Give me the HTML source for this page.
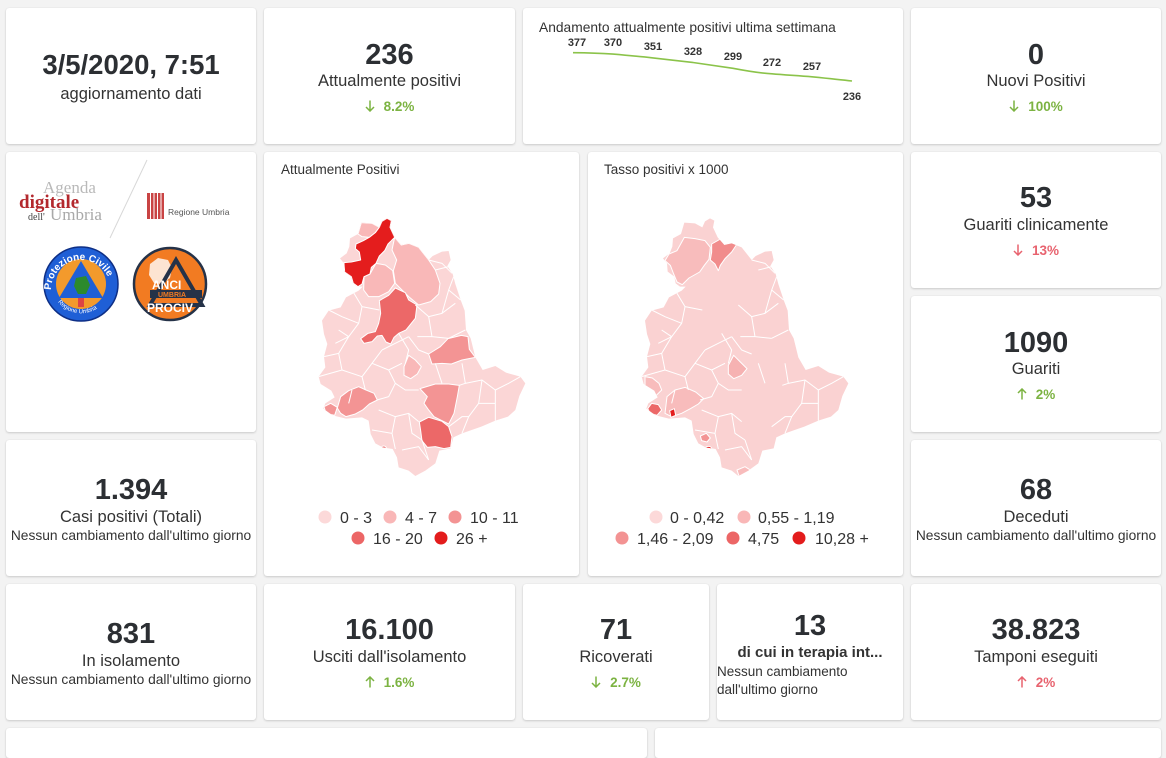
<!DOCTYPE html>
<html><head><meta charset="utf-8">
<style>
*{margin:0;padding:0;box-sizing:border-box}
html,body{width:1166px;height:730px;overflow:hidden;background:#f3f3f3;font-family:"Liberation Sans",sans-serif;color:#333}
.card{position:absolute;background:#fff;border-radius:3px;box-shadow:0 1px 2px rgba(0,0,0,.16),0 0 1px rgba(0,0,0,.10)}
.t{position:absolute;left:0;right:0;text-align:center;white-space:nowrap}
.n{font-size:29px;line-height:34px;font-weight:bold;color:#2c2f33}
.l{font-size:16.5px;line-height:20px;color:#333}
.c{font-size:13.5px;line-height:16px;font-weight:bold}
.s{font-size:13.8px;line-height:17px;color:#333}
.g{color:#7cb342}.r{color:#e8636f}
.ar{display:inline-block;position:relative;width:10px;height:12px;margin-right:9px;vertical-align:-1px}
.ar svg{position:absolute;left:0;top:0}
svg.main{position:absolute;left:0;top:0}
</style></head><body>

<!-- Row 1 -->
<div class="card" style="left:6px;top:8px;width:250px;height:136px">
  <div class="t n" style="top:40px;font-size:27.5px">3/5/2020, 7:51</div>
  <div class="t l" style="top:76px">aggiornamento dati</div>
</div>
<div class="card" style="left:264px;top:8px;width:251px;height:136px">
  <div class="t n" style="top:30px">236</div>
  <div class="t l" style="top:63px">Attualmente positivi</div>
  <div class="t c g" style="top:91px"><span class="ar"><svg width="10" height="12"><path d="M5,0.5 V11 M1,7 L5,11 L9,7" fill="none" stroke="currentColor" stroke-width="1.5"/></svg></span>8.2%</div>
</div>
<div class="card" style="left:523px;top:8px;width:380px;height:136px"></div>
<div class="card" style="left:911px;top:8px;width:250px;height:136px">
  <div class="t n" style="top:30px">0</div>
  <div class="t l" style="top:63px">Nuovi Positivi</div>
  <div class="t c g" style="top:91px"><span class="ar"><svg width="10" height="12"><path d="M5,0.5 V11 M1,7 L5,11 L9,7" fill="none" stroke="currentColor" stroke-width="1.5"/></svg></span>100%</div>
</div>

<!-- Row 2 -->
<div class="card" style="left:6px;top:152px;width:250px;height:280px"></div>
<div class="card" style="left:264px;top:152px;width:315px;height:424px">
  <div style="position:absolute;left:17px;top:10px;font-size:13.5px">Attualmente Positivi</div>
</div>
<div class="card" style="left:588px;top:152px;width:315px;height:424px">
  <div style="position:absolute;left:16px;top:10px;font-size:13.5px">Tasso positivi x 1000</div>
</div>
<div class="card" style="left:911px;top:152px;width:250px;height:136px">
  <div class="t n" style="top:29px">53</div>
  <div class="t l" style="top:63px">Guariti clinicamente</div>
  <div class="t c r" style="top:91px"><span class="ar"><svg width="10" height="12"><path d="M5,0.5 V11 M1,7 L5,11 L9,7" fill="none" stroke="currentColor" stroke-width="1.5"/></svg></span>13%</div>
</div>
<div class="card" style="left:911px;top:296px;width:250px;height:136px">
  <div class="t n" style="top:30px">1090</div>
  <div class="t l" style="top:63px">Guariti</div>
  <div class="t c g" style="top:91px"><span class="ar"><svg width="10" height="12"><path d="M5,11.5 V1 M1,5 L5,1 L9,5" fill="none" stroke="currentColor" stroke-width="1.5"/></svg></span>2%</div>
</div>

<!-- Row 3 -->
<div class="card" style="left:6px;top:440px;width:250px;height:136px">
  <div class="t n" style="top:33px">1.394</div>
  <div class="t l" style="top:67px">Casi positivi (Totali)</div>
  <div class="t s" style="top:87px">Nessun cambiamento dall'ultimo giorno</div>
</div>
<div class="card" style="left:911px;top:440px;width:250px;height:136px">
  <div class="t n" style="top:33px">68</div>
  <div class="t l" style="top:67px">Deceduti</div>
  <div class="t s" style="top:87px">Nessun cambiamento dall'ultimo giorno</div>
</div>

<!-- Row 4 -->
<div class="card" style="left:6px;top:584px;width:250px;height:136px">
  <div class="t n" style="top:33px">831</div>
  <div class="t l" style="top:67px">In isolamento</div>
  <div class="t s" style="top:87px">Nessun cambiamento dall'ultimo giorno</div>
</div>
<div class="card" style="left:264px;top:584px;width:251px;height:136px">
  <div class="t n" style="top:29px">16.100</div>
  <div class="t l" style="top:63px">Usciti dall'isolamento</div>
  <div class="t c g" style="top:91px"><span class="ar"><svg width="10" height="12"><path d="M5,11.5 V1 M1,5 L5,1 L9,5" fill="none" stroke="currentColor" stroke-width="1.5"/></svg></span>1.6%</div>
</div>
<div class="card" style="left:523px;top:584px;width:186px;height:136px">
  <div class="t n" style="top:29px">71</div>
  <div class="t l" style="top:63px">Ricoverati</div>
  <div class="t c g" style="top:91px"><span class="ar"><svg width="10" height="12"><path d="M5,0.5 V11 M1,7 L5,11 L9,7" fill="none" stroke="currentColor" stroke-width="1.5"/></svg></span>2.7%</div>
</div>
<div class="card" style="left:717px;top:584px;width:186px;height:136px">
  <div class="t n" style="top:25px">13</div>
  <div class="t" style="top:60px;font-size:15px;line-height:18px;font-weight:bold;color:#333">di cui in terapia int...</div>
  <div style="position:absolute;left:0;top:79px;font-size:13.5px;line-height:18px;color:#333">Nessun cambiamento<br>dall'ultimo giorno</div>
</div>
<div class="card" style="left:911px;top:584px;width:250px;height:136px">
  <div class="t n" style="top:29px">38.823</div>
  <div class="t l" style="top:63px">Tamponi eseguiti</div>
  <div class="t c r" style="top:91px"><span class="ar"><svg width="10" height="12"><path d="M5,11.5 V1 M1,5 L5,1 L9,5" fill="none" stroke="currentColor" stroke-width="1.5"/></svg></span>2%</div>
</div>

<!-- Row 5 (partial) -->
<div class="card" style="left:6px;top:728px;width:641px;height:30px"></div>
<div class="card" style="left:655px;top:728px;width:506px;height:30px"></div>

<svg class="main" width="1166" height="730" viewBox="0 0 1166 730" xmlns="http://www.w3.org/2000/svg">
<defs>
<path id="ub" d="M375,205 L388,212 L384,232 L398,262 L418,285 L440,280 L470,292 L500,330 L512,318 L540,305 L560,303 L566,330 L556,348 L572,372 L580,402 L596,450 L608,482 L612,540 L626,565 L640,622 L662,660 L700,648 L732,668 L775,680 L790,700 L772,738 L760,780 L738,800 L700,812 L658,830 L600,850 L574,862 L566,895 L532,902 L520,940 L490,962 L460,978 L440,962 L410,952 L405,922 L392,897 L362,892 L340,880 L326,852 L320,812 L300,802 L252,806 L212,796 L184,776 L190,760 L218,742 L208,722 L176,702 L170,680 L190,652 L186,620 L196,582 L186,552 L180,512 L200,482 L236,472 L252,442 L290,422 L302,410 L285,410 L272,400 L268,380 L248,365 L246,340 L234,325 L254,310 L262,290 L264,265 L288,252 L298,218 L330,220 L352,232 L360,214 Z"/>
<clipPath id="cl"><use href="#ub"/></clipPath>
<g id="ln" fill="none" stroke="#fff" stroke-width="3" stroke-linejoin="round">
<polyline points="270,420 300,470 290,520 260,560 220,580"/>
<polyline points="200,480 240,500 290,520"/>
<polyline points="300,470 352,480"/>
<polyline points="186,620 230,610 260,560"/>
<polyline points="230,610 240,660 300,680 330,640 360,600"/>
<polyline points="170,680 240,660"/>
<polyline points="300,680 310,720"/>
<polyline points="330,640 380,660 420,640"/>
<polyline points="380,660 400,700 430,720 470,720"/>
<polyline points="400,700 380,740 345,750"/>
<polyline points="350,780 400,800 440,790 470,815"/>
<polyline points="400,800 390,850 400,897"/>
<polyline points="440,790 450,850 480,870"/>
<polyline points="330,840 390,850"/>
<polyline points="420,900 470,890 500,930"/>
<polyline points="460,465 500,500 540,490 580,460"/>
<polyline points="500,500 510,560 560,565"/>
<polyline points="466,560 510,560"/>
<polyline points="440,560 470,600 500,612"/>
<polyline points="540,490 560,420 575,380"/>
<polyline points="560,420 596,450"/>
<polyline points="600,640 610,700 592,706"/>
<polyline points="610,700 660,690 700,720 740,700 775,680"/>
<polyline points="660,690 650,760 620,800 600,850"/>
<polyline points="700,720 700,812"/>
<polyline points="650,760 700,760"/>
<polyline points="520,360 560,350"/>
<polyline points="500,330 540,340 570,370"/>
<polyline points="360,600 400,580 440,560"/>
<polyline points="230,540 260,560"/>
<polyline points="410,550 440,600 430,640"/>
<polyline points="520,640 540,700"/>
<polyline points="610,540 560,565"/>
<polyline points="270,720 260,760"/>
<polyline points="480,870 500,930"/>
<polyline points="560,830 600,800 620,800"/>
</g>
</defs>

<!-- sparkline -->
<text x="539" y="32" font-family="Liberation Sans, sans-serif" font-size="13.8" fill="#333">Andamento attualmente positivi ultima settimana</text>
<path d="M573,52.7 C593,52.9 603,53.4 613,54.1 C628,55.4 640,56.5 653,57.9 C667,59.6 680,61 693,62.5 C707,64.6 720,66.5 733,68.3 C747,71 758,73 772,73.8 C786,75 798,75.6 812,76.8 C826,78.2 840,79.6 852,81" fill="none" stroke="#8bc34a" stroke-width="1.6"/>
<g font-family="Liberation Sans, sans-serif" font-size="11" font-weight="bold" fill="#333" text-anchor="middle">
<text x="577" y="46">377</text><text x="613" y="46">370</text><text x="653" y="50">351</text><text x="693" y="55">328</text>
<text x="733" y="60">299</text><text x="772" y="66">272</text><text x="812" y="70">257</text><text x="852" y="100">236</text>
</g>

<!-- map 1 -->
<g transform="translate(262,150) scale(0.33333)">
<use href="#ub" fill="#fbd6d6"/>
<g clip-path="url(#cl)" stroke="#fff" stroke-width="3" stroke-linejoin="round">
<path fill="#f9b8b8" d="M298,218 L330,220 L352,232 L340,248 L322,262 L300,260 L288,252 Z"/>
<path fill="#f9b8b8" d="M398,262 L418,285 L440,280 L470,292 L500,330 L520,360 L534,400 L530,432 L506,455 L470,465 L440,440 L420,420 L400,400 L394,362 L404,330 L390,300 Z"/>
<path fill="#f9b8b8" d="M324,372 L342,340 L370,345 L392,362 L398,400 L380,425 L350,440 L320,440 L305,420 L306,380 Z"/>
<path fill="#e41d1d" d="M360,214 L375,205 L388,212 L384,232 L398,262 L378,282 L368,302 L352,318 L342,340 L328,352 L324,372 L306,380 L300,402 L288,410 L274,400 L268,380 L248,366 L246,338 L268,336 L296,330 L292,306 L280,296 L282,282 L304,272 L322,262 L340,248 L352,232 Z"/>
<path fill="#ec6868" d="M352,452 L380,436 L400,414 L430,428 L440,450 L465,465 L460,505 L432,540 L410,550 L396,562 L386,582 L372,576 L360,556 L346,558 L330,575 L306,580 L296,566 L318,550 L340,545 L350,520 L356,490 Z"/>
<path fill="#f39494" d="M500,612 L535,590 L558,566 L598,556 L618,560 L622,598 L640,622 L600,630 L568,642 L540,640 L510,642 Z"/>
<path fill="#f39494" d="M474,716 L520,702 L560,702 L592,706 L586,740 L576,790 L560,822 L540,812 L516,800 L500,780 L486,760 L496,740 Z"/>
<path fill="#ec6868" d="M472,816 L500,802 L540,814 L560,830 L570,860 L566,892 L546,896 L520,890 L496,892 L480,872 L476,842 Z"/>
<path fill="#f39494" d="M236,740 L260,722 L290,710 L312,720 L336,730 L346,750 L322,762 L302,780 L280,792 L252,800 L236,790 L226,774 Z"/>
<path fill="#f39494" d="M186,770 L206,760 L226,772 L218,796 L192,790 Z"/>
<path fill="#f9b8b8" d="M440,616 L460,630 L478,650 L466,672 L446,686 L426,676 L426,650 Z"/>
<circle fill="#ec6868" cx="365" cy="897" r="9"/>
<use href="#ln"/>
</g>
</g>

<!-- map 2 -->
<g transform="translate(585,150) scale(0.33333)">
<use href="#ub" fill="#fad2d2"/>
<g clip-path="url(#cl)" stroke="#fff" stroke-width="3" stroke-linejoin="round">
<path fill="#f8bcbc" d="M298,262 L330,266 L360,272 L376,292 L372,328 L358,346 L344,366 L312,384 L292,404 L276,396 L266,372 L256,346 L240,332 L252,312 L276,302 Z"/>
<path fill="#f18c8c" d="M380,282 L408,266 L428,256 L452,266 L456,282 L440,306 L420,326 L406,346 L400,362 L390,342 L376,330 L380,306 Z"/>
<path fill="#f6b2b2" d="M446,616 L466,636 L486,656 L470,676 L446,686 L430,672 L430,646 Z"/>
<path fill="#f8bcbc" d="M180,680 L202,684 L222,700 L230,720 L214,736 L194,726 L180,710 Z"/>
<path fill="#f8bcbc" d="M246,740 L270,720 L300,712 L332,726 L356,746 L340,762 L316,776 L290,790 L260,800 L240,790 Z"/>
<path fill="#ec6868" d="M188,776 L200,760 L220,764 L230,780 L216,796 L196,790 Z"/>
<path fill="#e41d1d" d="M254,782 L268,776 L272,796 L258,802 Z"/>
<path fill="#f39494" d="M346,858 L364,850 L376,864 L366,876 L350,872 Z"/>
<ellipse fill="#e41d1d" cx="370" cy="896" rx="10" ry="7"/>
<path fill="#f8bcbc" d="M456,960 L480,950 L496,960 L486,975 L462,978 Z"/>
<use href="#ln"/>
</g>
</g>

<!-- legends -->
<g font-family="Liberation Sans, sans-serif" font-size="16" fill="#333">
<circle cx="325" cy="517" r="6.5" fill="#fcd9d9"/><text x="340" y="523">0 - 3</text>
<circle cx="390" cy="517" r="6.5" fill="#f9b7b7"/><text x="405" y="523">4 - 7</text>
<circle cx="455" cy="517" r="6.5" fill="#f39393"/><text x="470" y="523">10 - 11</text>
<circle cx="358" cy="538" r="6.5" fill="#ec6666"/><text x="373" y="544">16 - 20</text>
<circle cx="441" cy="538" r="6.5" fill="#e31c1c"/><text x="456" y="544">26 +</text>

<circle cx="656" cy="517" r="6.5" fill="#fcd9d9"/><text x="670" y="523">0 - 0,42</text>
<circle cx="744" cy="517" r="6.5" fill="#f9b7b7"/><text x="758" y="523">0,55 - 1,19</text>
<circle cx="622" cy="538" r="6.5" fill="#f39393"/><text x="637" y="544">1,46 - 2,09</text>
<circle cx="733" cy="538" r="6.5" fill="#ec6666"/><text x="748" y="544">4,75</text>
<circle cx="799" cy="538" r="6.5" fill="#e31c1c"/><text x="815" y="544">10,28 +</text>
</g>

<!-- logos -->
<g font-family="Liberation Serif, serif">
<text x="43" y="193" font-size="17" fill="#b9b9b9">Agenda</text>
<text x="19" y="208" font-size="19" font-weight="bold" fill="#b3282d">digitale</text>
<text x="28" y="220" font-size="10" fill="#444">dell'</text>
<text x="50" y="220" font-size="17" fill="#a9a9a9">Umbria</text>
</g>
<line x1="147" y1="160" x2="110" y2="238" stroke="#d8d8d8" stroke-width="1"/>
<rect x="147" y="193" width="17" height="26" fill="#c94444"/>
<g stroke="#fff" stroke-width="1"><line x1="150.5" y1="193" x2="150.5" y2="219"/><line x1="154" y1="193" x2="154" y2="219"/><line x1="157.5" y1="193" x2="157.5" y2="219"/><line x1="161" y1="193" x2="161" y2="219"/></g>
<text x="168" y="215" font-family="Liberation Sans, sans-serif" font-size="8.5" fill="#555">Regione Umbria</text>

<!-- Protezione civile -->
<circle cx="81" cy="284" r="37" fill="#1f5fd6" stroke="#0e2f86" stroke-width="1.5"/>
<circle cx="81" cy="284" r="25" fill="#f39a2c"/>
<polygon points="81,261 59,298 103,298" fill="#1f5fd6"/>
<path d="M76,278 L86,276 L90,285 L86,294 L78,294 L74,286 Z" fill="#2c8a2c"/>
<rect x="78" y="298" width="6" height="9" fill="#d44"/>
<path id="arcTop" d="M51,290 A30,30 0 0 1 111,290" fill="none"/>
<path id="arcBot" d="M58,302 A29,29 0 0 0 104,302" fill="none"/>
<text font-family="Liberation Sans, sans-serif" font-size="10" font-weight="bold" fill="#fff"><textPath href="#arcTop">Protezione Civile</textPath></text>
<text font-family="Liberation Sans, sans-serif" font-size="6" fill="#fff"><textPath href="#arcBot">Regione Umbria</textPath></text>

<!-- ANCI -->
<circle cx="170" cy="284" r="36" fill="#f27b22" stroke="#253248" stroke-width="2.5"/>
<path d="M150,264 L158,258 L168,260 L172,268 L170,278 L162,284 L154,283 L149,275 Z" fill="#fff" opacity="0.8"/>
<polygon points="176,260 150,305 202,305" fill="none" stroke="#253248" stroke-width="4"/>
<rect x="150" y="290" width="52" height="8" fill="#253248"/>
<text x="152" y="289" font-family="Liberation Sans, sans-serif" font-size="12" font-weight="bold" fill="#fff">ANCI</text>
<text x="158" y="297" font-family="Liberation Sans, sans-serif" font-size="7" font-weight="bold" fill="#f27b22">UMBRIA</text>
<text x="170" y="312" text-anchor="middle" font-family="Liberation Sans, sans-serif" font-size="12" font-weight="bold" fill="#fff">PROCIV</text>
</svg>
</body></html>
